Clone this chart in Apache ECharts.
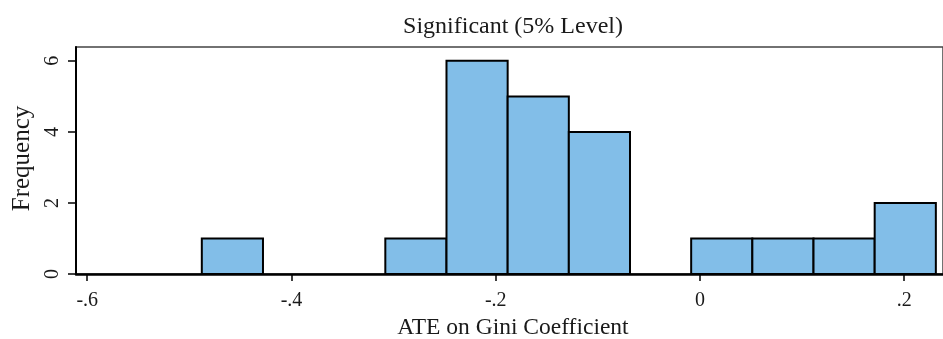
<!DOCTYPE html>
<html>
<head>
<meta charset="utf-8">
<script src="https://cdn.jsdelivr.net/npm/echarts@6/dist/echarts.min.js"></script>
<style>
html,body{margin:0;padding:0;background:#fff;}
#chart{width:943px;height:339px;}
</style>
</head>
<body>
<div id="chart"></div>
<script>
// Histogram data
var binStart = -0.4878;
var binWidth = 0.0599;
var counts = [1, 0, 0, 1, 6, 5, 4, 0, 1, 1, 1, 2];
var xTickValues = [-0.6, -0.4, -0.2, 0, 0.2];
var xTickLabels = ['-.6', '-.4', '-.2', '0', '.2'];
var yTickValues = [0, 2, 4, 6];
var titleText = 'Significant (5% Level)';
var xTitle = 'ATE on Gini Coefficient';
var yTitle = 'Frequency';

var bins = [];
for (var i = 0; i < counts.length; i++) {
  if (counts[i] > 0) {
    bins.push([binStart + i * binWidth, binStart + (i + 1) * binWidth, counts[i]]);
  }
}

var font = 'Liberation Serif';
var txt = '#1a1a1a';
var chart = echarts.init(document.getElementById('chart'), null, {renderer: 'canvas'});
chart.setOption({
  animation: false,
  backgroundColor: '#ffffff',
  title: {
    text: titleText,
    left: 513,
    top: 15,
    padding: 0,
    textAlign: 'center',
    textStyle: {fontFamily: font, fontSize: 24, fontWeight: 'normal', color: txt}
  },
  grid: {
    left: 76, top: 47, right: 0, bottom: 65,
    outerBoundsMode: 'none',
    containLabel: false,
    show: true, borderColor: '#444', borderWidth: 1.5, backgroundColor: 'transparent'
  },
  xAxis: {
    type: 'value',
    min: -0.611, max: 0.238,
    splitLine: {show: false},
    axisLine: {show: true, onZero: false, lineStyle: {color: '#000', width: 2.5}},
    axisTick: {show: true, customValues: xTickValues, length: 7, lineStyle: {color: '#000', width: 1.5}},
    axisLabel: {
      customValues: xTickValues,
      margin: 17,
      fontFamily: font, fontSize: 20, color: txt,
      formatter: function (v) {
        for (var k = 0; k < xTickValues.length; k++) {
          if (Math.abs(xTickValues[k] - v) < 1e-6) return xTickLabels[k];
        }
        return '';
      }
    },
    name: xTitle,
    nameLocation: 'middle',
    nameGap: 42,
    nameTextStyle: {fontFamily: font, fontSize: 23.5, color: txt, padding: [0, 0, 0, 7]}
  },
  yAxis: {
    type: 'value',
    min: 0, max: 6.39,
    splitLine: {show: false},
    axisLine: {show: true, onZero: false, lineStyle: {color: '#000', width: 2}},
    axisTick: {show: true, customValues: yTickValues, length: 8, lineStyle: {color: '#000', width: 1.5}},
    axisLabel: {
      customValues: yTickValues,
      rotate: 90,
      margin: 13,
      fontFamily: font, fontSize: 20, color: txt
    },
    name: yTitle,
    nameLocation: 'middle',
    nameGap: 40,
    nameRotate: 90,
    nameTextStyle: {fontFamily: font, fontSize: 25, color: txt, padding: [0, 0, 0, 4]}
  },
  series: [{
    type: 'custom',
    data: bins,
    renderItem: function (params, api) {
      var p0 = api.coord([api.value(0), api.value(2)]);
      var p1 = api.coord([api.value(1), 0]);
      return {
        type: 'rect',
        shape: {x: p0[0], y: p0[1], width: p1[0] - p0[0], height: p1[1] - p0[1]},
        style: {fill: '#82BEE8', stroke: '#000', lineWidth: 2}
      };
    },
    encode: {x: [0, 1], y: 2}
  }]
});
</script>
</body>
</html>
